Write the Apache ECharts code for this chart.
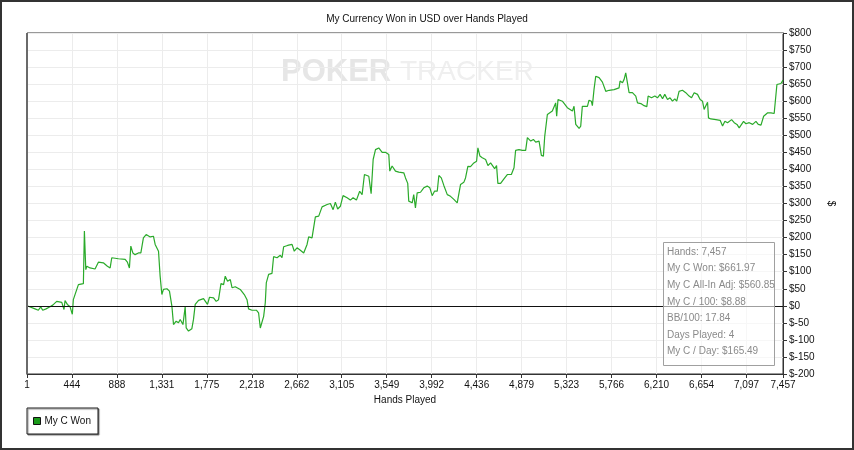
<!DOCTYPE html>
<html>
<head>
<meta charset="utf-8">
<script src="https://cdn.jsdelivr.net/npm/echarts@6/dist/echarts.min.js"></script>
<style>
html,body{margin:0;padding:0;background:#fff;}
#chart{width:854px;height:450px;}
</style>
</head>
<body>
<div id="chart"></div>
<script>
// ---- data ----
const titleText = 'My Currency Won in USD over Hands Played';
const seriesName = 'My C Won';
const hands = [1,14,80,113,136,156,189,228,255,294,344,366,376,399,426,448,458,475,508,557,567,581,591,623,672,705,754,794,821,837,903,969,991,1011,1025,1045,1067,1100,1124,1149,1176,1216,1248,1265,1298,1314,1331,1347,1381,1406,1430,1446,1472,1495,1512,1539,1561,1571,1594,1627,1643,1660,1693,1742,1781,1801,1841,1867,1890,1914,1940,1956,1979,2006,2023,2055,2104,2144,2171,2186,2220,2263,2285,2302,2319,2335,2351,2361,2384,2417,2433,2467,2499,2516,2532,2571,2615,2637,2664,2697,2730,2763,2779,2812,2845,2878,2911,2961,2993,3020,3042,3065,3092,3118,3158,3190,3217,3250,3282,3306,3329,3372,3395,3415,3438,3470,3504,3536,3569,3579,3602,3635,3668,3717,3734,3756,3766,3800,3815,3832,3849,3882,3914,3948,3974,3997,4020,4047,4063,4087,4112,4146,4178,4211,4244,4260,4277,4309,4326,4349,4375,4408,4435,4448,4468,4491,4524,4547,4573,4613,4632,4645,4672,4705,4738,4778,4804,4820,4853,4887,4903,4919,4936,4969,4995,5018,5051,5074,5094,5107,5133,5182,5215,5225,5238,5281,5330,5380,5396,5413,5446,5462,5478,5528,5544,5567,5577,5593,5610,5643,5676,5709,5742,5791,5840,5850,5874,5890,5906,5923,5939,5972,6005,6022,6055,6087,6114,6127,6160,6193,6219,6245,6269,6291,6318,6343,6367,6390,6409,6432,6465,6498,6531,6555,6581,6614,6640,6663,6679,6696,6713,6722,6745,6795,6837,6861,6884,6910,6950,6976,7003,7025,7042,7068,7091,7124,7158,7190,7213,7240,7266,7306,7338,7370,7387,7397,7437,7457];
const won = [0,-3,-9,-13,-3,-13,-9,-3,2,13,10,-11,15,4,-3,-25,18,23,62,65,219,106,116,111,108,128,126,116,111,141,138,136,128,111,175,155,150,155,155,199,209,202,204,180,160,87,33,48,50,43,-1,-55,-45,-50,-40,-55,-3,-65,-74,-67,-40,4,16,21,4,25,23,13,18,65,62,87,72,77,53,56,48,33,18,-9,-13,-13,-21,-65,-63,-31,9,67,92,95,144,141,148,141,173,177,180,160,170,163,155,180,202,199,261,263,290,297,300,282,304,284,292,323,317,310,317,310,336,326,385,380,329,429,458,463,450,450,444,395,410,395,392,390,375,359,307,302,326,287,331,333,346,351,346,323,336,336,382,375,353,326,321,312,302,300,356,362,375,409,408,419,424,463,439,434,429,411,419,402,411,359,359,372,385,385,405,456,458,456,453,456,493,483,488,480,483,441,439,497,561,571,595,556,605,600,581,571,585,532,520,527,585,585,603,600,587,634,673,669,656,629,632,634,639,659,654,664,683,678,625,625,615,595,593,587,584,615,610,615,610,620,607,620,605,610,600,607,600,629,632,625,615,610,625,620,605,600,576,571,597,551,548,546,544,527,541,537,546,537,532,522,527,541,534,537,532,541,532,530,556,566,566,564,566,649,652,661.97];
const xTicks = [1,444,888,1331,1775,2218,2662,3105,3549,3992,4436,4879,5323,5766,6210,6654,7097,7457];
const yMin = -200, yMax = 800, yStep = 50;
const xName = 'Hands Played';
const yName = '$';
const infoLines = ['Hands: 7,457','My C Won: $661.97','My C All-In Adj: $560.85','My C / 100: $8.88','BB/100: 17.84','Days Played: 4','My C / Day: $165.49'];
const watermarkA = 'POKER';
const watermarkB = 'TRACKER';

// ---- font detection ----
function hasFont(name){
  const c=document.createElement('canvas').getContext('2d');
  c.font='20px monospace'; const a=c.measureText('abcdefghijklmnopqrstuvwxyz0123456789').width;
  c.font="20px '"+name+"', monospace"; const b=c.measureText('abcdefghijklmnopqrstuvwxyz0123456789').width;
  return Math.abs(a-b)>0.5;
}
const narrow = hasFont('Liberation Sans Narrow');
const axFont = narrow ? "'Liberation Sans Narrow'" : "'Liberation Sans', Arial";
const axSize = narrow ? 12 : 10;

const fmtNum = v => String(Math.round(v)).replace(/\B(?=(\d{3})+(?!\d))/g, ',');
const data = hands.map((h,i)=>[h, won[i]]);

const chart = echarts.init(document.getElementById('chart'), null, {renderer:'canvas'});
const infoTop = 242, infoLeft = 663, lineH = 16.6;
const graphics = [
  {type:'rect', z:100, silent:true, shape:{x:1,y:1,width:852,height:448}, style:{fill:'none', stroke:'#333', lineWidth:2}},
  {type:'rect', z:100, silent:true, shape:{x:26,y:33,width:2,height:341}, style:{fill:'#6a6a6a'}},
  {type:'text', z:-5, silent:true, left:281, top:57, style:{text:watermarkA, fill:'#e6e6e6', font:"bold 31px 'Liberation Sans', Arial"}},
  {type:'text', z:-5, silent:true, left:400, top:58, style:{text:watermarkB, fill:'#efefef', font:"28px 'Liberation Sans', Arial"}},
  {type:'rect', z:50, silent:true, shape:{x:infoLeft+0.5,y:infoTop+0.5,width:111,height:123}, style:{fill:'rgba(255,255,255,0.6)', stroke:'#a0a0a0', lineWidth:1}}
];
infoLines.forEach((t,i)=>{
  graphics.push({type:'text', z:51, silent:true, x:infoLeft+4, y:infoTop+10+i*lineH,
    style:{text:t, fill:'#8a8a8a', font:"10px 'Liberation Sans', Arial", verticalAlign:'middle'}});
});

chart.setOption({
  animation:false,
  backgroundColor:'#fff',
  title:{text:titleText, left:'center', top:9, textStyle:{fontSize:axSize, fontWeight:'normal', color:'#111', fontFamily:axFont}},
  legend:{left:27, top:408, orient:'horizontal', data:[seriesName], icon:'rect', itemWidth:7, itemHeight:7, itemGap:5,
    padding:[8,7,8,6], borderColor:'#222', borderWidth:1, backgroundColor:'#fff',
    shadowColor:'rgba(0,0,0,0.45)', shadowOffsetX:1, shadowOffsetY:1, shadowBlur:1,
    itemStyle:{color:'#1a9a1a', borderColor:'#111', borderWidth:1},
    textStyle:{fontSize:axSize, color:'#111', fontFamily:axFont, padding:[0,0,0,-1]}},
  grid:{left:27, right:71, top:33, bottom:76, show:true, borderColor:'#333', borderWidth:1},
  xAxis:{type:'value', min:1, max:7457, name:xName, nameLocation:'middle', nameGap:19,
    nameTextStyle:{fontSize:axSize, color:'#111', fontFamily:axFont},
    axisLine:{show:true, onZero:false, lineStyle:{color:'#333'}},
    axisTick:{show:true, length:4, customValues:xTicks, lineStyle:{color:'#333'}},
    axisLabel:{customValues:xTicks, margin:6, fontSize:axSize, color:'#111', fontFamily:axFont, formatter:fmtNum, hideOverlap:false},
    splitLine:{show:true, lineStyle:{color:'#ececec', width:1}}},
  yAxis:{type:'value', position:'right', min:yMin, max:yMax, interval:yStep, name:yName, nameLocation:'middle', nameGap:40, nameRotate:-90,
    nameTextStyle:{fontSize:axSize, color:'#111', fontFamily:axFont},
    axisLine:{show:true, lineStyle:{color:'#333'}},
    axisTick:{show:true, length:4, lineStyle:{color:'#333'}},
    axisLabel:{margin:6, fontSize:axSize, color:'#111', fontFamily:axFont, formatter:v=>'$'+v},
    splitLine:{show:true, lineStyle:{color:'#ececec', width:1}}},
  series:[{name:seriesName, type:'line', data:data, showSymbol:false, symbol:'none',
    lineStyle:{color:'#2aaa2a', width:1.2}, itemStyle:{color:'#1a9a1a'},
    markLine:{silent:true, symbol:['none','none'], label:{show:false}, lineStyle:{color:'#111', width:1, type:'solid'}, data:[{yAxis:0}]}}],
  graphic:graphics
});
</script>
</body>
</html>
